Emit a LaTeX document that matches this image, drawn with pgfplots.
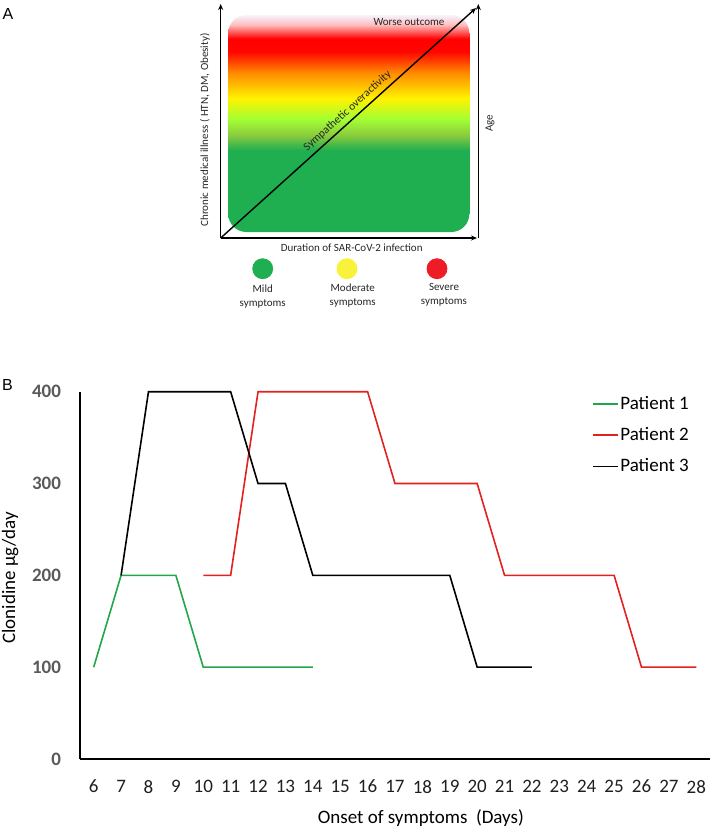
\documentclass[border=0pt]{standalone}
\usepackage{fontspec}
\setmainfont{Carlito}
\newfontfamily\arialfont{Liberation Sans}
\usepackage{pgfplots}
\pgfplotsset{compat=1.18}
\usetikzlibrary{arrows.meta}
\definecolor{pgreen}{HTML}{22A64A}
\definecolor{pred}{HTML}{E3211F}
\definecolor{tickgray}{HTML}{595959}
\definecolor{cgreen}{HTML}{1FAE50}
\definecolor{cyellow}{HTML}{F8F23A}
\definecolor{cred}{HTML}{EE1C25}
\definecolor{lgreen}{HTML}{8ACB3E}
\pgfdeclareverticalshading{covid}{100bp}{%
  color(0bp)=(cgreen);
  color(25bp)=(cgreen);
  color(43.8bp)=(cgreen);
  color(47.3bp)=(lgreen);
  color(51bp)=(yellow!55!green!80!white);
  color(55.8bp)=(yellow!90!orange);
  color(61.6bp)=(orange!90!yellow);
  color(66.5bp)=(red!95!orange);
  color(69.5bp)=(red);
  color(72.8bp)=(red!25!white);
  color(75bp)=(blue!4!white);
  color(100bp)=(blue!4!white)}
\begin{document}
\begin{tikzpicture}
\useasboundingbox (0,0) rectangle (358pt,416pt);
% ---------- Panel A (pixel-coordinate overlay axis) ----------
\begin{axis}[
  at={(0pt,0pt)}, anchor=south west,
  scale only axis, width=358pt, height=416pt,
  xmin=0, xmax=716, ymin=0, ymax=832, y dir=reverse,
  hide axis, clip=false]
\shade[shading=covid, rounded corners=9pt] (228.3,15) rectangle (469.3,232);
% axes of the schematic
\draw[line width=0.7pt, -{Stealth[length=3pt,width=2.5pt]}] (220.7,238) -- (220.7,4);
\draw[line width=0.7pt, -{Stealth[length=3pt,width=2.5pt]}] (220.7,238) -- (477,238);
\draw[line width=0.7pt, -{Stealth[length=3pt,width=2.5pt]}] (478.3,238) -- (478.3,4);
\draw[line width=0.7pt, -{Stealth[length=3pt,width=2.5pt]}] (220.7,238) -- (476,8);
\node[font=\fontsize{5.5}{6.6}\selectfont, text=black!85] at (409,22) {Worse outcome};
\node[font=\fontsize{5.5}{6.6}\selectfont, text=black!85, rotate=90] at (205,130) {Chronic medical illness ( HTN, DM, Obesity)};
\node[font=\fontsize{5.5}{6.6}\selectfont, text=black!85, rotate=90] at (490,123) {Age};
\node[font=\fontsize{5.5}{6.6}\selectfont, text=black!85] at (351.7,248) {Duration of SAR-CoV-2 infection};
\node[font=\fontsize{5.7}{6.6}\selectfont, text=black!85, rotate=42, anchor=center, inner sep=0pt] at (347.5,111) {Sympathetic overactivity};
\addplot[only marks, mark=*, mark size=5pt, color=cgreen] coordinates {(262.7,268.7)};
\addplot[only marks, mark=*, mark size=5pt, color=cyellow] coordinates {(347,268.7)};
\addplot[only marks, mark=*, mark size=5pt, color=cred] coordinates {(437,268.7)};
\node[font=\fontsize{5.5}{7}\selectfont, text=black!85, align=center] at (262.7,297) {Mild\\symptoms};
\node[font=\fontsize{5.5}{7}\selectfont, text=black!85, align=center] at (352.7,296) {Moderate\\symptoms};
\node[font=\fontsize{5.5}{7}\selectfont, text=black!85, align=center] at (444,295) {Severe\\symptoms};
\node[font=\arialfont\fontsize{8}{9}\selectfont] at (8,14) {A};
\node[font=\arialfont\fontsize{8}{9}\selectfont] at (7.5,385) {B};
\end{axis}
% ---------- Panel B ----------
\begin{axis}[
  at={(40pt,36.5pt)}, anchor=south west,
  scale only axis, width=315pt, height=183.65pt,
  xmin=5.5, xmax=28.5, ymin=0, ymax=400,
  axis x line*=bottom, axis y line*=left,
  separate axis lines,
  axis line style={line width=1pt, -},
  xtick={6,...,28}, ytick={0,100,200,300,400},
  major tick length=0pt,
  /pgf/number format/assume math mode=true,
  xticklabel style={font=\fontsize{9.5}{11}\selectfont, text=black!88, yshift=-7pt},
  yticklabel style={font=\fontsize{9.5}{11}\selectfont\bfseries, text=tickgray, xshift=-6pt},
  every axis y label/.style={at={(axis description cs:-0.111,0.493)}, rotate=90, anchor=center},
  every axis x label/.style={at={(axis description cs:0.541,-0.161)}, anchor=center},
  label style={font=\fontsize{9.5}{11}\selectfont},
  ylabel={Clonidine µg/day},
  xlabel={Onset of symptoms~ (Days)},
  legend style={at={(rel axis cs:0.813,1.0)}, anchor=north west, draw=none, fill=none,
    font=\fontsize{9.5}{11}\selectfont, inner sep=0pt, row sep=3.5pt,
    nodes={inner xsep=0.5pt},
    /tikz/every even column/.append style={column sep=0pt}},
  legend cell align=left,
  legend image code/.code={\draw[#1, line width=0.9pt] (0pt,0pt) -- (12.5pt,0pt);},
  clip=false]
\addplot[pgreen, line width=0.8pt] coordinates {
  (6,100) (7,200) (8,200) (9,200) (10,100) (11,100) (12,100) (13,100) (14,100)};
\addlegendentry{Patient 1}
\addplot[pred, line width=0.8pt] coordinates {
  (10,200) (11,200) (12,400) (13,400) (14,400) (15,400) (16,400) (17,300) (18,300)
  (19,300) (20,300) (21,200) (22,200) (23,200) (24,200) (25,200) (26,100) (27,100) (28,100)};
\addlegendentry{Patient 2}
\addplot[black, line width=0.8pt] coordinates {
  (7,200) (8,400) (9,400) (10,400) (11,400) (12,300) (13,300) (14,200) (15,200)
  (16,200) (17,200) (18,200) (19,200) (20,100) (21,100) (22,100)};
\addlegendentry{Patient 3}
\end{axis}
\end{tikzpicture}
\end{document}
